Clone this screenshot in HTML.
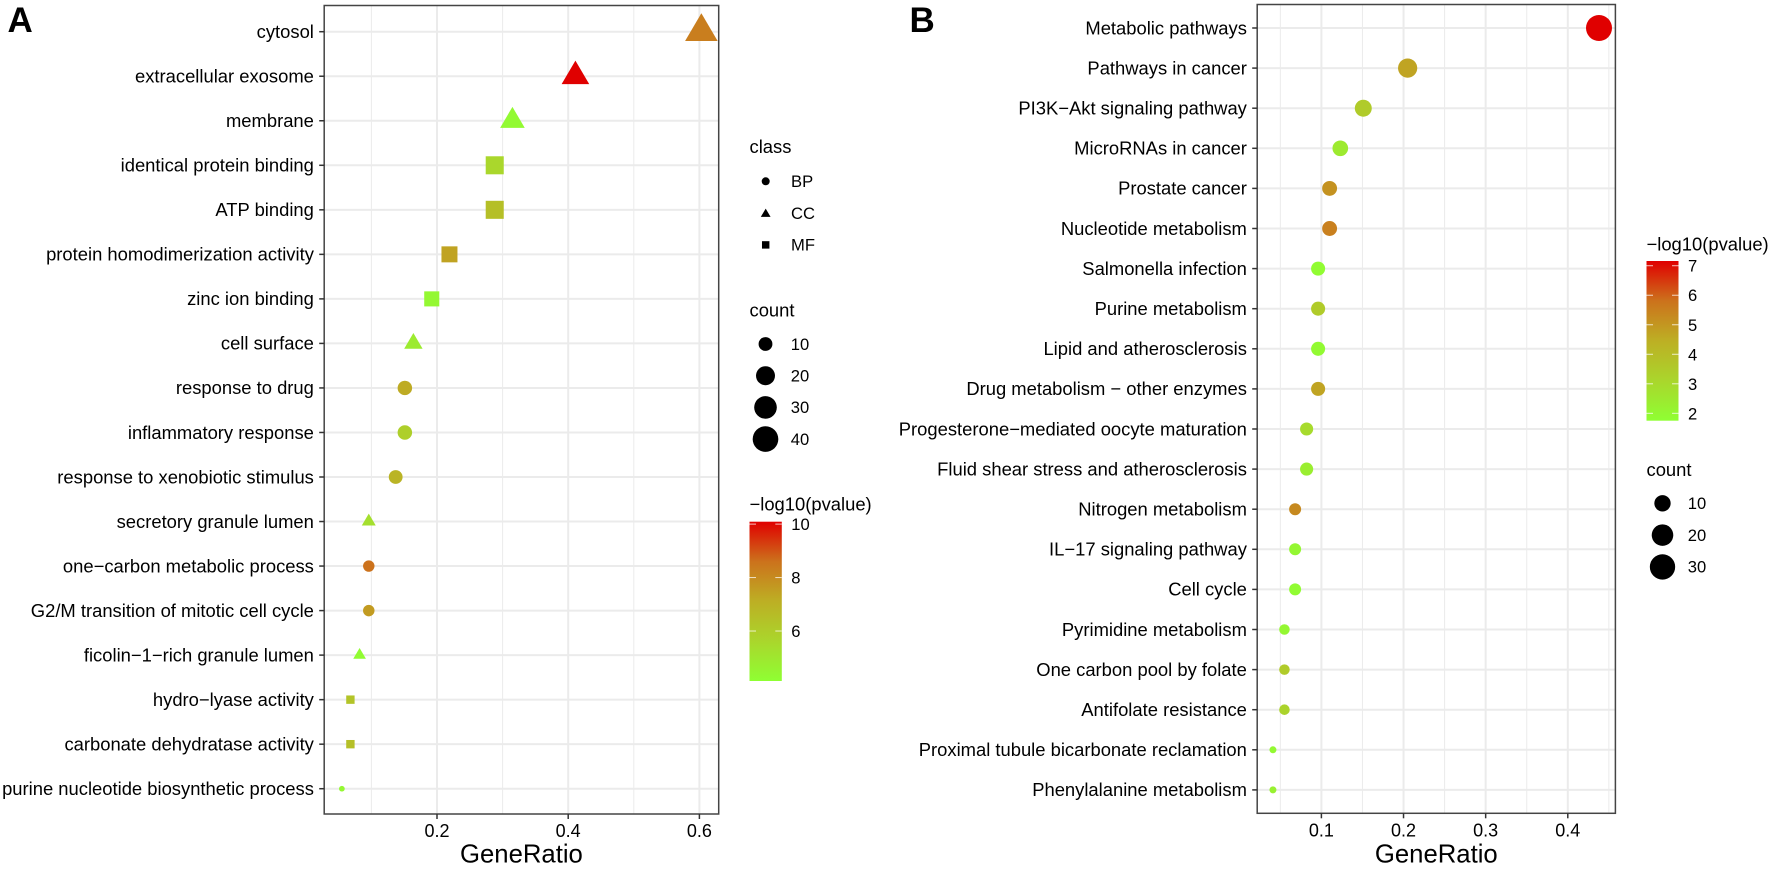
<!DOCTYPE html>
<html lang="en">
<head>
<meta charset="utf-8">
<title>GO and KEGG enrichment dot plots</title>
<style>
html,body{margin:0;padding:0;background:#fff;width:1772px;height:869px;overflow:hidden}
svg{display:block;position:absolute;left:0;top:0}
text{font-family:"Liberation Sans",Arial,sans-serif;fill:#000}
</style>
</head>
<body>
<svg id="figure" xmlns="http://www.w3.org/2000/svg" width="1772" height="869" viewBox="0 0 1772 869">
<defs>
<linearGradient id="cbar" x1="0" y1="1" x2="0" y2="0">
<stop offset="0" stop-color="#8FFF33"/>
<stop offset="0.25" stop-color="#AAD62C"/>
<stop offset="0.5" stop-color="#BDAF24"/>
<stop offset="0.75" stop-color="#CC721C"/>
<stop offset="1" stop-color="#E00000"/>
</linearGradient>
</defs>
</svg>
<script>
// Panel A data
var categoriesA = ["cytosol","extracellular exosome","membrane","identical protein binding","ATP binding","protein homodimerization activity","zinc ion binding","cell surface","response to drug","inflammatory response","response to xenobiotic stimulus","secretory granule lumen","one\u2212carbon metabolic process","G2/M transition of mitotic cell cycle","ficolin\u22121\u2212rich granule lumen","hydro\u2212lyase activity","carbonate dehydratase activity","purine nucleotide biosynthetic process"];
var ratioA = [0.603,0.411,0.315,0.288,0.288,0.219,0.192,0.164,0.151,0.151,0.137,0.096,0.096,0.096,0.082,0.068,0.068,0.055];
var countA = [44,30,23,21,21,16,14,12,11,11,10,7,7,7,6,5,5,4];
var pvalueA = [8.3,10.09,4.3,5.6,6.5,7.4,4.4,4.85,7.2,5.9,6.9,5.3,8.6,7.6,4.25,6.3,6.5,4.4];
var classA = ["CC","CC","CC","MF","MF","MF","MF","CC","BP","BP","BP","CC","BP","BP","CC","MF","MF","BP"];
var xTicksA = [0.2,0.4,0.6];
var xMinorA = [0.1,0.3,0.5];
var colorTicksA = [6,8,10];
var sizeLegendA = [10,20,30,40];
var classLegend = ["BP","CC","MF"];

// Panel B data
var categoriesB = ["Metabolic pathways","Pathways in cancer","PI3K\u2212Akt signaling pathway","MicroRNAs in cancer","Prostate cancer","Nucleotide metabolism","Salmonella infection","Purine metabolism","Lipid and atherosclerosis","Drug metabolism \u2212 other enzymes","Progesterone\u2212mediated oocyte maturation","Fluid shear stress and atherosclerosis","Nitrogen metabolism","IL\u221217 signaling pathway","Cell cycle","Pyrimidine metabolism","One carbon pool by folate","Antifolate resistance","Proximal tubule bicarbonate reclamation","Phenylalanine metabolism"];
var ratioB = [0.438,0.205,0.151,0.123,0.110,0.110,0.096,0.096,0.096,0.096,0.082,0.082,0.068,0.068,0.068,0.055,0.055,0.055,0.041,0.041];
var countB = [32,15,11,9,8,8,7,7,7,7,6,6,5,5,5,4,4,4,3,3];
var pvalueB = [7.16,4.7,3.5,2.45,5.1,5.5,1.85,3.5,1.9,4.7,2.95,2.3,5.3,2.0,1.85,2.0,3.5,3.2,1.95,2.2];
var xTicksB = [0.1,0.2,0.3,0.4];
var xMinorB = [0.05,0.15,0.25,0.35,0.45];
var colorTicksB = [2,3,4,5,6,7];
var sizeLegendB = [10,20,30];

var NS = "http://www.w3.org/2000/svg";
var svg = document.getElementById("figure");
var colorStops = [[0,[143,255,51]],[0.25,[170,214,44]],[0.5,[189,175,36]],[0.75,[204,114,28]],[1,[224,0,0]]];

function make(tag, attrs, parent, txt){
  var el = document.createElementNS(NS, tag);
  for (var k in attrs) el.setAttribute(k, attrs[k]);
  if (txt !== undefined) el.textContent = txt;
  (parent || svg).appendChild(el);
  return el;
}
function group(name, parent){
  var g = make("g", {}, parent);
  
  
  return g;
}
function label(parent, name, x, y, size, str, anchor){
  var t = make("text", {x:x, y:y, "font-size":size, "text-anchor":anchor || "start"}, parent, str);
  
  
  return t;
}
function slug(s){
  return String(s).toLowerCase().replace(/[^a-z0-9]+/g, "-").replace(/^-|-$/g, "");
}
function colorFor(p, lo, hi){
  var t = Math.max(0, Math.min(1, (p - lo) / (hi - lo)));
  for (var i = 1; i < colorStops.length; i++) {
    if (t <= colorStops[i][0]) {
      var a = colorStops[i-1], b = colorStops[i], f = (t - a[0]) / (b[0] - a[0]);
      var c = a[1].map(function(v, j){ return Math.round(v + (b[1][j] - v) * f); });
      return "rgb(" + c.join(",") + ")";
    }
  }
  return "rgb(224,0,0)";
}
function drawMark(parent, shape, cx, cy, d, fill, name){
  var m;
  if (shape === "CC") {
    var w = d * 1.22;
    m = make("polygon", {points:(cx - w/2) + "," + (cy + d*0.35) + " " + (cx + w/2) + "," + (cy + d*0.35) + " " + cx + "," + (cy - d*0.69), fill:fill}, parent);
  } else if (shape === "MF") {
    var s = d * 0.93;
    m = make("rect", {x:cx - s/2, y:cy - s/2, width:s, height:s, fill:fill}, parent);
  } else {
    m = make("circle", {cx:cx, cy:cy, r:d/2, fill:fill}, parent);
  }
  
  
  return m;
}

function drawPanel(cfg){
  var root = group(cfg.id + "-panel");
  var xScale = function(v){ return cfg.x0 + (v - cfg.v0) * cfg.pxPerUnit; };
  var yScale = function(i){ return cfg.rowTop + i * cfg.rowStep; };
  var sizeScale = function(c){ return cfg.dMin + cfg.dK * Math.sqrt(Math.max(0, c - cfg.cMin) / (cfg.cMax - cfg.cMin)); };

  var grid = group(cfg.id + "-grid", root);
  cfg.minor.forEach(function(v){
    make("line", {x1:xScale(v), x2:xScale(v), y1:cfg.top, y2:cfg.bottom, stroke:"#EBEBEB", "stroke-width":1}, grid);
  });
  cfg.ticks.forEach(function(v){
    make("line", {x1:xScale(v), x2:xScale(v), y1:cfg.top, y2:cfg.bottom, stroke:"#EBEBEB", "stroke-width":2}, grid);
  });
  cfg.cats.forEach(function(c, i){
    make("line", {x1:cfg.left, x2:cfg.right, y1:yScale(i), y2:yScale(i), stroke:"#EBEBEB", "stroke-width":2}, grid);
  });

  var marks = group(cfg.id + "-points", root);
  cfg.cats.forEach(function(c, i){
    var shape = cfg.cls ? cfg.cls[i] : "BP";
    drawMark(marks, shape, xScale(cfg.ratio[i]), yScale(i), sizeScale(cfg.count[i]), colorFor(cfg.p[i], cfg.pLo, cfg.pHi), cfg.id + "-point-" + slug(c));
  });

  var border = make("rect", {x:cfg.left, y:cfg.top, width:cfg.right - cfg.left, height:cfg.bottom - cfg.top, fill:"none", stroke:"#444", "stroke-width":1.5}, root);
  
  

  var yAxis = group(cfg.id + "-y-axis", root);
  cfg.cats.forEach(function(c, i){
    make("line", {x1:cfg.left - 5, x2:cfg.left, y1:yScale(i), y2:yScale(i), stroke:"#333", "stroke-width":1.5}, yAxis);
    label(yAxis, cfg.id + "-label-" + slug(c), cfg.left - 10.3, yScale(i) + 6.3, 18.4, c, "end");
  });

  var xAxis = group(cfg.id + "-x-axis", root);
  cfg.ticks.forEach(function(v){
    make("line", {x1:xScale(v), x2:xScale(v), y1:cfg.bottom, y2:cfg.bottom + 5, stroke:"#333", "stroke-width":1.5}, xAxis);
    label(xAxis, cfg.id + "-x-tick-" + slug(v), xScale(v), cfg.bottom + 23, 18, v.toFixed(1), "middle");
  });
  label(xAxis, cfg.id + "-x-axis-title", (cfg.left + cfg.right) / 2, 862.5, 25.7, "GeneRatio", "middle");

  var tag = label(root, cfg.id + "-panel-tag", cfg.tagX, 32, 35, cfg.tag);
  tag.setAttribute("font-weight", "bold");

  // colour bar legend
  var cb = group(cfg.id + "-color-legend", root);
  label(cb, cfg.id + "-color-legend-title", cfg.cbX, cfg.cbTitleY, 18.4, "\u2212log10(pvalue)");
  var bar = make("rect", {x:cfg.cbX, y:cfg.cbTop, width:cfg.cbW, height:cfg.cbBottom - cfg.cbTop, fill:"url(#cbar)"}, cb);
  
  
  var cbScale = function(v){ return cfg.cbBottom - (v - cfg.pLo) / (cfg.pHi - cfg.pLo) * (cfg.cbBottom - cfg.cbTop); };
  cfg.colorTicks.forEach(function(v){
    var y = cbScale(v);
    make("line", {x1:cfg.cbX, x2:cfg.cbX + 6.5, y1:y, y2:y, stroke:"#fff", "stroke-opacity":0.75, "stroke-width":1}, cb);
    make("line", {x1:cfg.cbX + cfg.cbW - 6.5, x2:cfg.cbX + cfg.cbW, y1:y, y2:y, stroke:"#fff", "stroke-opacity":0.75, "stroke-width":1}, cb);
    label(cb, cfg.id + "-color-tick-" + v, cfg.cbX + cfg.cbW + 9.5, y + 6, 16.6, String(v));
  });

  // size legend
  var sl = group(cfg.id + "-size-legend", root);
  label(sl, cfg.id + "-size-legend-title", cfg.cbX, cfg.sizeTitleY, 18.4, "count");
  cfg.sizeLegend.forEach(function(c, i){
    var y = cfg.sizeTop + i * cfg.sizeStep;
    drawMark(sl, "BP", cfg.cbX + 16, y, sizeScale(c), "#000", cfg.id + "-size-key-" + c);
    label(sl, cfg.id + "-size-label-" + c, cfg.cbX + 41.3, y + 5.8, 16.6, String(c));
  });
}

drawPanel({
  id:"a", tag:"A", tagX:7.5, cats:categoriesA, ratio:ratioA, count:countA, p:pvalueA, cls:classA,
  ticks:xTicksA, minor:xMinorA, left:324.2, right:718.7, top:5.5, bottom:814,
  x0:437, v0:0.2, pxPerUnit:656, rowTop:31.7, rowStep:44.53,
  dMin:5.7, dK:21, cMin:4, cMax:44, pLo:4.13, pHi:10.09,
  colorTicks:colorTicksA, cbX:749.5, cbW:32.3, cbTop:521.7, cbBottom:681, cbTitleY:510.5,
  sizeLegend:sizeLegendA, sizeTitleY:316.5, sizeTop:344, sizeStep:31.7
});
drawPanel({
  id:"b", tag:"B", tagX:909.5, cats:categoriesB, ratio:ratioB, count:countB, p:pvalueB, cls:null,
  ticks:xTicksB, minor:xMinorB, left:1257.2, right:1615.4, top:4.5, bottom:813.3,
  x0:1321.4, v0:0.1, pxPerUnit:821.3, rowTop:28, rowStep:40.1,
  dMin:7, dK:19, cMin:3, cMax:32, pLo:1.75, pHi:7.16,
  colorTicks:colorTicksB, cbX:1646.5, cbW:32, cbTop:261, cbBottom:420.7, cbTitleY:250.5,
  sizeLegend:sizeLegendB, sizeTitleY:476, sizeTop:503.3, sizeStep:31.8
});

// Shape legend for panel A
var shapeLegend = group("a-class-legend");
label(shapeLegend, "a-class-legend-title", 749.5, 153, 18.4, "class");
classLegend.forEach(function(c, i){
  var y = 181.3 + i * 31.8;
  drawMark(shapeLegend, c, 765.7, y + (c === "CC" ? 1 : 0), 8, "#000", "a-class-key-" + slug(c));
  label(shapeLegend, "a-class-label-" + slug(c), 791, y + 5.8, 16.6, c);
});
</script>
</body>
</html>
